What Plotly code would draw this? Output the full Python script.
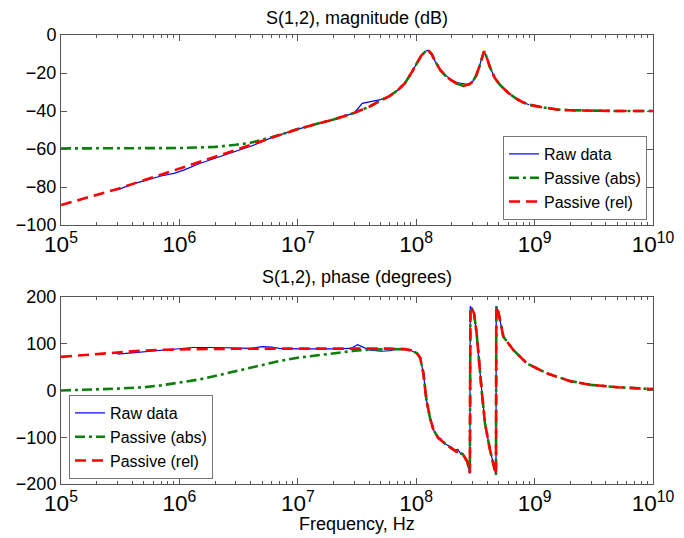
import plotly.graph_objects as go

# ---------------- data ----------------
# Magnitude, Passive (rel)
mag_rel_f = [1e5, 2e5, 3e5, 5e5, 7e5, 1e6, 1.5e6, 2e6, 3e6, 4e6, 5e6, 6e6, 8e6, 1e7, 1.5e7, 2e7,
             3e7, 4e7, 5e7, 6e7, 7e7, 8e7, 9e7, 1e8, 1.1e8, 1.2e8, 1.26e8, 1.35e8, 1.45e8, 1.6e8,
             1.8e8, 2e8, 2.2e8, 2.5e8, 2.8e8, 3e8, 3.2e8, 3.4e8, 3.6e8, 3.75e8, 3.9e8, 4.2e8,
             4.6e8, 5.1e8, 6e8, 7e8, 8e8, 9e8, 1.2e9, 1.6e9, 2e9, 3e9, 5e9, 1e10]
mag_rel = [-89.5, -84, -81, -76.5, -73.5, -70.5, -67, -64.3, -60.5, -57.8, -55.7, -54, -51.5, -49.5,
           -46.5, -44.5, -41, -37.8, -34.5, -32, -29, -25.5, -20.5, -15.5, -11, -8.5, -8, -10, -14,
           -18.5, -22, -24, -25.5, -26.8, -26, -24.5, -21.5, -17, -11.5, -8.5, -11, -17, -22.5,
           -26.3, -30.5, -33.5, -35.5, -36.7, -38.2, -39.3, -39.6, -39.9, -40, -40]

# Magnitude, Passive (abs)
mag_abs_f = [1e5, 3e5, 1e6, 2e6, 2.5e6, 3e6, 4e6, 5e6, 6e6, 8e6, 1e7, 1.5e7, 2e7, 3e7, 4e7, 5e7,
             6e7, 7e7, 8e7, 9e7, 1e8, 1.1e8, 1.2e8, 1.26e8, 1.35e8, 1.45e8, 1.6e8, 1.8e8, 2e8,
             2.2e8, 2.5e8, 2.8e8, 3e8, 3.2e8, 3.4e8, 3.6e8, 3.75e8, 3.9e8, 4.2e8, 4.6e8, 5.1e8,
             6e8, 7e8, 8e8, 9e8, 1.2e9, 1.6e9, 2e9, 3e9, 5e9, 1e10]
mag_abs = [-59.7, -59.7, -59.5, -58.9, -58.4, -57.8, -56.7, -55.2, -53.8, -51.5, -49.5, -46.5,
           -44.5, -41, -37.8, -34.5, -32, -29, -25.5, -20.5, -15.5, -11, -8.5, -8, -10, -14,
           -18.5, -22, -24, -25.5, -26.8, -26, -24.5, -21.5, -17, -11.5, -8.5, -11, -17, -22.5,
           -26.3, -30.5, -33.5, -35.5, -36.7, -38.2, -39.3, -39.6, -39.9, -40, -40]

# Magnitude, raw data
mag_raw_f = [3e5, 4e5, 5e5, 7e5, 9e5, 1.1e6, 1.5e6, 2e6, 3e6, 4.5e6, 6e6, 8e6, 1e7, 2e7, 3e7,
             3.5e7, 4e7, 5e7, 6e7, 7e7, 8e7, 9e7, 1e8, 1.1e8, 1.2e8, 1.26e8, 1.35e8, 1.45e8,
             1.6e8, 1.8e8, 2e8, 2.2e8, 2.4e8, 2.6e8, 2.8e8, 3e8, 3.2e8, 3.4e8, 3.6e8, 3.75e8,
             3.9e8, 4.2e8, 4.6e8, 5.1e8, 6e8, 7e8, 8e8, 9e8]
mag_raw = [-81.5, -78.5, -76.8, -74.2, -72.8, -71, -67.5, -64.8, -61, -57.4, -54, -51.6, -49.5,
           -44.5, -41, -36, -35.3, -34, -32, -29, -25.5, -20.5, -15.5, -11, -8.5, -8, -10, -14,
           -18.5, -21.5, -23.8, -25, -25.6, -25.8, -25.8, -24.5, -21.5, -17, -11.5, -8.5, -11,
           -17, -22.5, -26.3, -30.5, -33.5, -35.5, -36.7]

# Phase, Passive (rel)
ph_rel_f = [1e5, 2e5, 3e5, 5e5, 7e5, 1e6, 2e6, 5e6, 1e7, 3e7, 6e7, 8e7, 9e7, 9.5e7, 1.01e8,
            1.08e8, 1.15e8, 1.22e8, 1.31e8, 1.4e8, 1.54e8, 1.81e8, 2.2e8, 2.47e8, 2.7e8, 2.84e8,
            2.87e8, 2.94e8, 3.08e8, 3.24e8, 3.4e8, 3.57e8, 3.81e8, 4.2e8, 4.54e8, 4.72e8, 4.75e8,
            4.94e8, 5.45e8, 6.6e8, 8.6e8, 1.27e9, 2e9, 3e9, 5e9, 1e10]
ph_rel = [72, 78, 82, 85.5, 87, 88, 89, 89.5, 89.7, 89.8, 89.5, 88.5, 86, 83, 80, 70, 37, -20,
          -59, -84.5, -102, -116.6, -131, -136, -152, -176, 178, 176, 165, 122, 58, 1, -70,
          -127, -163, -180, 180, 168, 115, 87, 58, 36.7, 20, 12, 7, 3]

# Phase, Passive (abs)
ph_abs_f = [1e5, 2e5, 3e5, 5e5, 7e5, 1e6, 1.5e6, 2e6, 3e6, 4e6, 5e6, 7e6, 1e7, 1.5e7, 2e7, 3e7,
            4e7, 6e7, 8e7, 9e7, 9.5e7, 1.01e8, 1.08e8, 1.15e8, 1.22e8, 1.31e8, 1.4e8, 1.54e8,
            1.81e8, 2.2e8, 2.47e8, 2.7e8, 2.84e8, 2.87e8, 2.94e8, 3.08e8, 3.24e8, 3.4e8, 3.57e8,
            3.81e8, 4.2e8, 4.54e8, 4.72e8, 4.75e8, 4.94e8, 5.45e8, 6.6e8, 8.6e8, 1.27e9, 2e9,
            3e9, 5e9, 1e10]
ph_abs = [0, 2, 4, 7, 11, 17, 24, 31, 41, 48, 55, 63, 70, 76, 80, 85, 87.5, 89, 88.5, 86, 83, 80,
          70, 37, -20, -59, -84.5, -102, -116.6, -131, -136, -152, -176, 178, 176, 165, 122, 58,
          1, -70, -127, -163, -180, 180, 168, 115, 87, 58, 36.7, 20, 12, 7, 3]

# Phase, raw data
ph_raw_f = [3e5, 5e5, 7e5, 1e6, 1.3e6, 2e6, 3e6, 4e6, 5e6, 6e6, 7e6, 1e7, 2e7, 2.8e7, 3.2e7,
            3.6e7, 4e7, 5e7, 6e7, 7e7, 8e7, 9e7, 9.5e7, 1.01e8, 1.08e8, 1.15e8, 1.22e8, 1.31e8,
            1.4e8, 1.54e8, 1.62e8, 1.7e8, 1.81e8, 2e8, 2.1e8, 2.25e8, 2.4e8, 2.5e8, 2.7e8, 2.84e8,
            2.86e8, 2.94e8, 3.08e8, 3.24e8, 3.4e8, 3.57e8, 3.81e8, 4.2e8, 4.54e8, 4.72e8,
            4.74e8, 4.94e8, 5.45e8]
ph_raw = [78, 83, 87, 90, 92, 92, 90, 90, 94, 93, 90, 89, 89, 90, 98, 92, 87, 84, 85, 89, 88, 86,
          83, 80, 70, 37, -20, -59, -84.5, -100, -103, -112, -116, -122, -128, -126, -137, -138,
          -152, -178, 180, 176, 165, 122, 58, 1, -70, -127, -163, -180, 180, 168, 115]

# tick values
mag_ticks = [0, -20, -40, -60, -80, -100]
ph_ticks = [200, 100, 0, -100, -200]

# ---------------- figure ----------------
W, H = 684, 538
OFF = 8  # page body margin: screen pixel = OFF + figure pixel
FONT = "Liberation Sans, Arial, sans-serif"
AXC = "#555555"

BLUE = "#0000ff"
GREEN = "#0a800a"
RED = "#ff0000"


def px(x):
    return (x - OFF) / W


def py(y):
    return 1 - (y - OFF) / H


fig = go.Figure()


def add_set(xa, ya, leg, raw_f, raw_v, abs_f, abs_v, rel_f, rel_v):
    fig.add_trace(go.Scatter(x=raw_f, y=raw_v, mode="lines", name="Raw data",
                             line=dict(color=BLUE, width=1.2), xaxis=xa, yaxis=ya, legend=leg))
    fig.add_trace(go.Scatter(x=abs_f, y=abs_v, mode="lines", name="Passive (abs)",
                             line=dict(color=GREEN, width=2.6, dash="10px,4px,3px,4px"),
                             xaxis=xa, yaxis=ya, legend=leg))
    fig.add_trace(go.Scatter(x=rel_f, y=rel_v, mode="lines", name="Passive (rel)",
                             line=dict(color=RED, width=2.6, dash="11px,6px"),
                             xaxis=xa, yaxis=ya, legend=leg))


add_set("x", "y", "legend", mag_raw_f, mag_raw, mag_abs_f, mag_abs, mag_rel_f, mag_rel)
add_set("x2", "y2", "legend2", ph_raw_f, ph_raw, ph_abs_f, ph_abs, ph_rel_f, ph_rel)

xdom = [px(61), px(653)]
top_dom = [py(225), py(35)]
bot_dom = [py(484), py(297)]

xcommon = dict(type="log", range=[5, 10], tickmode="linear", tick0=0, dtick=1,
               exponentformat="power", showexponent="all",
               ticks="inside", ticklen=6, tickcolor=AXC, showline=True, linecolor=AXC,
               linewidth=1, mirror="allticks", showgrid=False, zeroline=False, automargin=False,
               tickfont=dict(family=FONT, size=18, color="#000"), domain=xdom,
               minor=dict(ticks="inside", ticklen=3, tickcolor=AXC, dtick="D1", showgrid=False))
ycommon = dict(ticks="inside", ticklen=6, tickcolor=AXC, showline=True, linecolor=AXC,
               linewidth=1, mirror="allticks", showgrid=False, zeroline=False, automargin=False,
               tickfont=dict(family=FONT, size=18, color="#000"))

fig.update_layout(
    width=W, height=H,
    margin=dict(l=0, r=0, t=0, b=0),
    paper_bgcolor="white", plot_bgcolor="white",
    font=dict(family=FONT, color="#000"),
    showlegend=True,
    xaxis=dict(anchor="y", **xcommon),
    yaxis=dict(anchor="x", domain=top_dom, range=[-100, 0], tickmode="array",
               tickvals=mag_ticks, **ycommon),
    xaxis2=dict(anchor="y2", **xcommon),
    yaxis2=dict(anchor="x2", domain=bot_dom, range=[-200, 200], tickmode="array",
                tickvals=ph_ticks, **ycommon),
    legend=dict(x=px(647), y=py(220), xanchor="right", yanchor="bottom",
                bgcolor="white", bordercolor="#777", borderwidth=1,
                font=dict(family=FONT, size=16, color="#000"), tracegroupgap=0),
    legend2=dict(x=px(69), y=py(479), xanchor="left", yanchor="bottom",
                 bgcolor="white", bordercolor="#777", borderwidth=1,
                 font=dict(family=FONT, size=16, color="#000"), tracegroupgap=0),
    annotations=[
        dict(text="S(1,2), magnitude (dB)", x=px(357), y=py(18), xref="paper", yref="paper",
             xanchor="center", yanchor="middle", showarrow=False,
             font=dict(family=FONT, size=18, color="#000")),
        dict(text="S(1,2), phase (degrees)", x=px(357), y=py(277), xref="paper", yref="paper",
             xanchor="center", yanchor="middle", showarrow=False,
             font=dict(family=FONT, size=18, color="#000")),
        dict(text="Frequency, Hz", x=px(357), y=py(524), xref="paper", yref="paper",
             xanchor="center", yanchor="middle", showarrow=False,
             font=dict(family=FONT, size=18, color="#000")),
    ],
)

fig.write_html("out.html")
